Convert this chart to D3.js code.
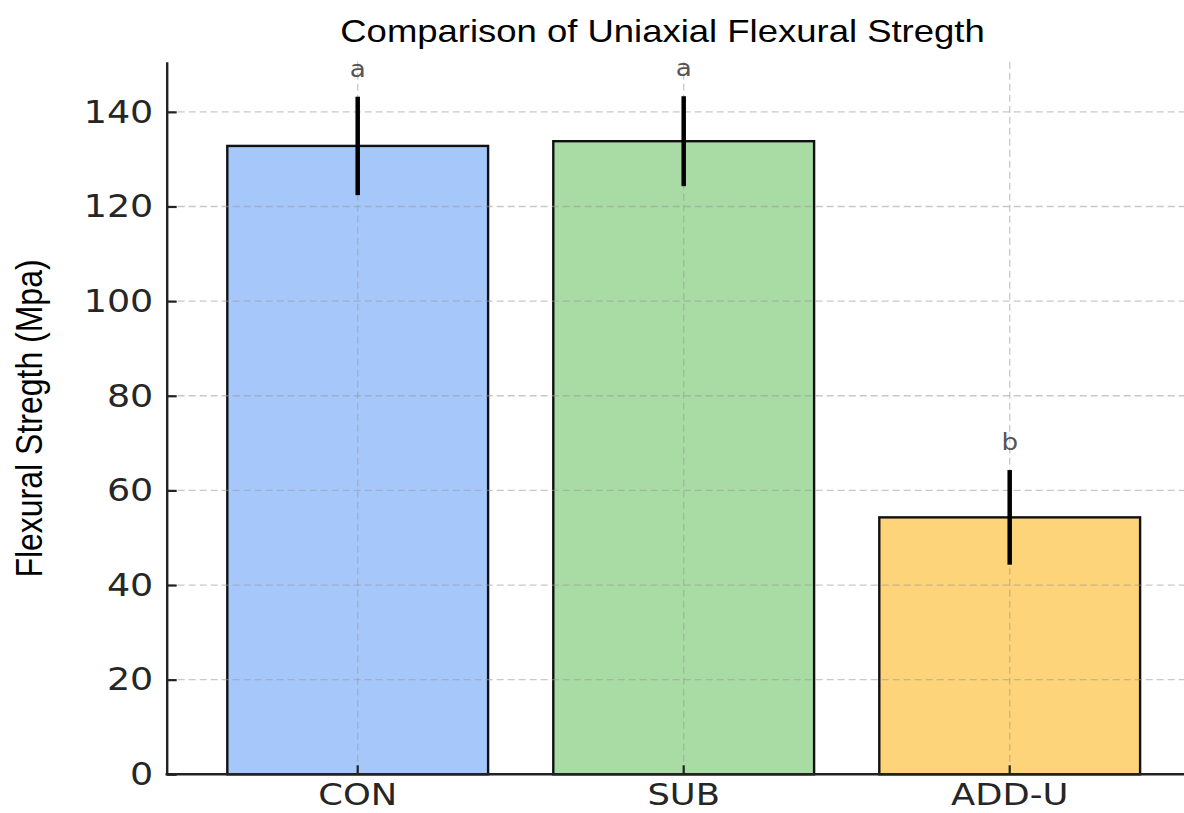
<!DOCTYPE html>
<html>
<head>
<meta charset="utf-8">
<script src="https://cdn.jsdelivr.net/npm/d3@7"></script>
<style>
  html, body { margin: 0; padding: 0; background: #ffffff; }
  svg { display: block; }
</style>
</head>
<body>
<svg id="chart" width="1184" height="813"></svg>
<script>
// ---- data ----
const categories = ["CON", "SUB", "ADD-U"];
const means = [132.8, 133.8, 54.3];
const errors = [10.4, 9.5, 10.0];
const sigLetters = ["a", "a", "b"];
const barColors = ["#a6c7fa", "#a8dca4", "#fdd479"];
const yTicks = [0, 20, 40, 60, 80, 100, 120, 140];
const yMax = 150.6;
const titleText = "Comparison of Uniaxial Flexural Stregth";
const yLabelText = "Flexural Stregth (Mpa)";

// ---- layout ----
const SX = 1.14;               // horizontal stretch of the original picture
const plotLeft = 166.7, plotRight = 1184, plotTop = 61.7, plotBottom = 774.3;

const svg = d3.select("#chart");

const y = d3.scaleLinear().domain([0, yMax]).range([plotBottom, plotTop]);
const x = d3.scaleBand().domain(categories)
  .range([194.7, 1172.7]).paddingInner(0.2).paddingOuter(0.1);

const rows = categories.map((c, i) => ({ cat: c, mean: means[i], err: errors[i], sig: sigLetters[i], color: barColors[i] }));

// bars
svg.append("g").selectAll("rect").data(rows).join("rect")
  .attr("x", d => x(d.cat))
  .attr("y", d => y(d.mean))
  .attr("width", x.bandwidth())
  .attr("height", d => y(0) - y(d.mean))
  .attr("fill", d => d.color)
  .attr("stroke", "#111")
  .attr("stroke-width", 2.4);

// grid (drawn over bars, faint)
const grid = svg.append("g").attr("stroke", "#9a9a9a").attr("stroke-opacity", 0.55)
  .attr("stroke-width", 1.3).attr("stroke-dasharray", "7,4");
grid.selectAll("line.h").data(yTicks.filter(t => t > 0)).join("line")
  .attr("class", "h")
  .attr("x1", plotLeft).attr("x2", plotRight)
  .attr("y1", d => y(d)).attr("y2", d => y(d));
grid.selectAll("line.v").data(categories).join("line")
  .attr("class", "v")
  .attr("x1", d => x(d) + x.bandwidth() / 2).attr("x2", d => x(d) + x.bandwidth() / 2)
  .attr("y1", plotTop).attr("y2", plotBottom);

// error bars
svg.append("g").selectAll("line").data(rows).join("line")
  .attr("x1", d => x(d.cat) + x.bandwidth() / 2)
  .attr("x2", d => x(d.cat) + x.bandwidth() / 2)
  .attr("y1", d => y(d.mean - d.err))
  .attr("y2", d => y(d.mean + d.err))
  .attr("stroke", "#000")
  .attr("stroke-width", 4.5);

// significance letters
svg.append("g").selectAll("text").data(rows).join("text")
  .attr("transform", d => `translate(${x(d.cat) + x.bandwidth() / 2},${y(d.mean + d.err) - 20}) scale(${SX},1)`)
  .attr("text-anchor", "middle")
  .attr("font-family", "DejaVu Sans")
  .attr("font-size", 23)
  .attr("fill", "#555")
  .text(d => d.sig);

// y axis
const yAxis = d3.axisLeft(y).tickValues(yTicks).tickFormat(d3.format("d"))
  .tickSizeInner(-10).tickSizeOuter(0).tickPadding(13.4);
const gy = svg.append("g").attr("transform", `translate(${plotLeft},0)`).call(yAxis);
gy.select(".domain").attr("stroke", "#222").attr("stroke-width", 2.4);
gy.selectAll(".tick line").attr("stroke", "#222").attr("stroke-width", 2.2);
gy.selectAll(".tick text")
  .attr("font-family", "DejaVu Sans")
  .attr("font-size", 32)
  .attr("fill", "#262626")
  .attr("x", -13.4 / SX)
  .attr("transform", `scale(${SX},1)`);

// x axis
const xAxis = d3.axisBottom(x).tickSizeInner(-9).tickSizeOuter(0).tickPadding(10);
const gx = svg.append("g").attr("transform", `translate(0,${plotBottom})`).call(xAxis);
gx.select(".domain").remove();
gx.selectAll(".tick line").attr("stroke", "#222").attr("stroke-width", 2.2);
gx.selectAll(".tick text")
  .attr("font-family", "DejaVu Sans")
  .attr("font-size", 31)
  .attr("fill", "#262626")
  .attr("transform", `scale(${SX},1)`)
  .attr("x", 0)
  .attr("y", 9)
  .attr("dy", "0.71em");
svg.append("line")
  .attr("x1", plotLeft - 1.2).attr("x2", plotRight)
  .attr("y1", plotBottom).attr("y2", plotBottom)
  .attr("stroke", "#222").attr("stroke-width", 2.4);

// title
svg.append("text")
  .attr("transform", `translate(662.5,42) scale(${SX},1)`)
  .attr("text-anchor", "middle")
  .attr("font-family", "Liberation Sans, Arial, sans-serif")
  .attr("font-size", 32)
  .attr("fill", "#000")
  .text(titleText);

// y label
svg.append("text")
  .attr("transform", `translate(41.5,418.5) scale(${SX},1) rotate(-90)`)
  .attr("text-anchor", "middle")
  .attr("font-family", "Liberation Sans, Arial, sans-serif")
  .attr("font-size", 32)
  .attr("fill", "#000")
  .text(yLabelText);
</script>
</body>
</html>
